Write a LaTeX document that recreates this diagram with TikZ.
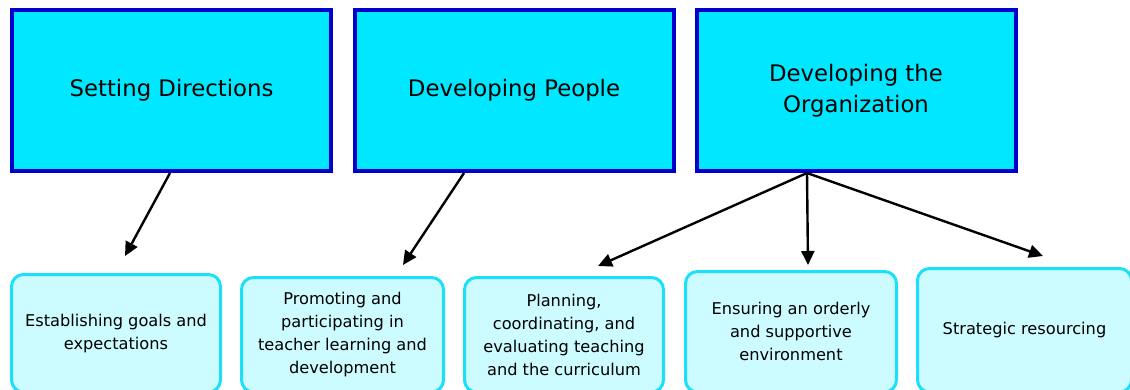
\documentclass[tikz,border=0pt]{standalone}
\usepackage{fontspec}
\setmainfont{DejaVu Sans}
\usetikzlibrary{arrows.meta}
\definecolor{topfill}{HTML}{00E8FF}
\definecolor{topline}{HTML}{0000CC}
\definecolor{subfill}{HTML}{CCFCFF}
\definecolor{subline}{HTML}{1CE0FA}
\newcommand{\lowline}[1]{\raisebox{-3pt}{#1}}
\begin{document}
\begin{tikzpicture}[
            x=1pt,y=-1pt,
            -{Triangle[length=14pt,width=13pt]},line width=2.4pt,
            top node/.style={rectangle,draw=topline,fill=topfill,line width=4pt,
              minimum width=319pt,minimum height=161pt,align=center,
              font=\fontsize{22.8}{31}\selectfont},
            sub node/.style={rectangle,rounded corners=12pt,draw=subline,fill=subfill,
              line width=3pt,minimum height=117.5pt,align=center,
              font=\fontsize{16.2}{23}\selectfont}]
        \useasboundingbox (0,0) rectangle (1130,389);
            % Define vertices
        \node[top node] (sd) at (171.5,90.5) {\lowline{Setting Directions}};
        \node[top node] (dp) at (514,90.5) {\lowline{Developing People}};
        \node[top node] (do) at (856,90.5) {\lowline{Developing the}\\\lowline{Organization}};
        \node[sub node,minimum width=209pt] (goals) at (116,333.25) {Establishing goals and\\expectations};
        \node[sub node,minimum width=202pt,minimum height=114.5pt] (learn) at (342.5,334.75) {Promoting and\\participating in\\teacher learning and\\development};
        \node[sub node,minimum width=199pt,minimum height=114.5pt] (plan) at (564,334.75) {Planning,\\coordinating, and\\evaluating teaching\\and the curriculum};
        \node[sub node,minimum width=211pt,minimum height=120.5pt] (env) at (791,331.75) {Ensuring an orderly\\and supportive\\environment};
        \node[sub node,minimum width=214pt,minimum height=123.5pt] (res) at (1024.5,330.25) {Strategic resourcing};
        \coordinate (t1) at (125,256);
        \coordinate (t2) at (403,265);
        \coordinate (t3) at (598,266);
        \coordinate (t4) at (808,265);
        \coordinate (t5) at (1043,256);

        % Draw edges
        \path
            ([xshift=-1.5pt]sd.south) edge (t1)
            ([xshift=-50pt]dp.south) edge (t2)
            ([xshift=-49pt]do.south) edge (t3)
            ([xshift=-49pt]do.south) edge (t4)
            ([xshift=-49pt]do.south) edge (t5);
\end{tikzpicture}
\end{document}
